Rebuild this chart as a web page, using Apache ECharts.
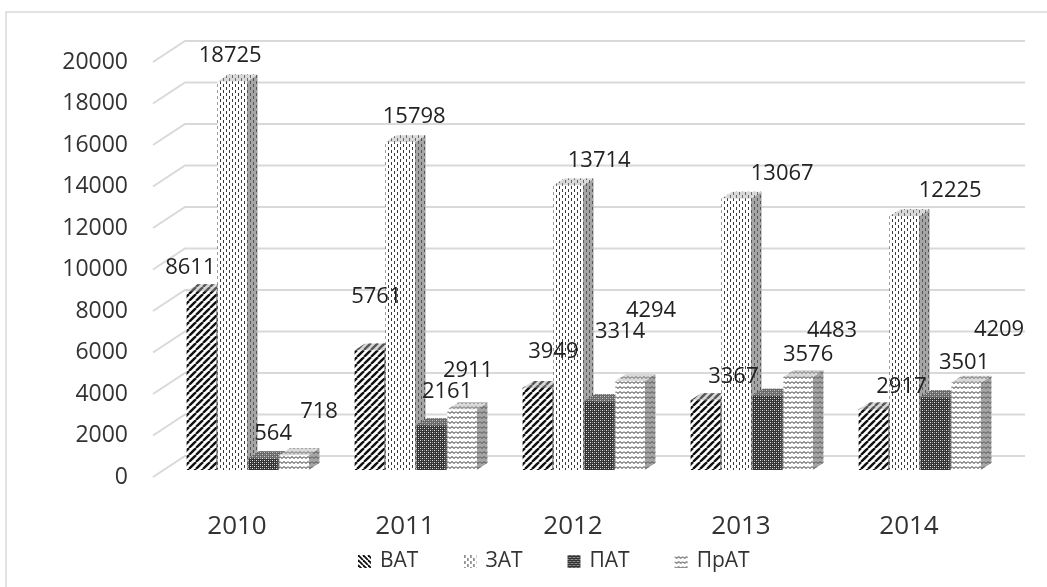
<!DOCTYPE html>
<html>
<head>
<meta charset="utf-8">
<script src="https://cdn.jsdelivr.net/npm/echarts@6/dist/echarts.min.js"></script>
<style>
  html, body { margin: 0; padding: 0; background: #ffffff; }
  #chart { width: 1047px; height: 587px; }
</style>
</head>
<body>
<div id="chart"></div>
<script>
// ---- data ----
const years = ['2010', '2011', '2012', '2013', '2014'];
const seriesNames = ['ВАТ', 'ЗАТ', 'ПАТ', 'ПрАТ'];
const vat  = [8611, 5761, 3949, 3367, 2917];
const zat  = [18725, 15798, 13714, 13067, 12225];
const pat  = [564, 2161, 3314, 3576, 3501];
const prat = [718, 2911, 4294, 4483, 4209];
const yTicks = [0, 2000, 4000, 6000, 8000, 10000, 12000, 14000, 16000, 18000, 20000];

// ---- layout / style ----
const FONT = '"Open Sans", "Noto Sans", sans-serif';
const TEXT = '#333333';
const DEPTH_X = 32, DEPTH_Y = -21;       // full depth of the 3D box
const SLOT = 0.184, BAR_W = 0.175;       // fractions of a category band

// small per-label nudges so value labels do not collide (px)
const labelNudge = [
  [[-16, 1], [2, -29], [11, -11], [23, 2], [23, 2]],
  [[-7, -1], [9, 0], [26, 0], [41, 0], [41, -1]],
  [[5, 0], [11, -8], [16, -45], [36, -16], [24, -10]],
  [[20, -18], [1, -14], [16, -45], [29, -21], [28, -28]]
];

// ---- fill patterns ----
function tile(w, h, draw) {
  const c = document.createElement('canvas');
  c.width = w; c.height = h;
  const g = c.getContext('2d');
  draw(g, w, h);
  return c;
}
function pattern(c) { return { image: c, repeat: 'repeat' }; }

const hatchUp = tile(7, 7, (g, w, h) => {
  g.fillStyle = '#fff'; g.fillRect(0, 0, w, h);
  g.strokeStyle = '#111'; g.lineWidth = 2.4;
  for (let k = -1; k <= 1; k++) { g.beginPath(); g.moveTo(k * w, h); g.lineTo(k * w + w, 0); g.stroke(); }
});
const hatchDown = tile(5, 5, (g, w, h) => {
  g.fillStyle = '#fff'; g.fillRect(0, 0, w, h);
  g.strokeStyle = '#111'; g.lineWidth = 1.8;
  for (let k = -1; k <= 1; k++) { g.beginPath(); g.moveTo(k * w, 0); g.lineTo(k * w + w, h); g.stroke(); }
});
const dashes = tile(6, 6, (g, w, h) => {
  g.fillStyle = '#fff'; g.fillRect(0, 0, w, h);
  g.fillStyle = '#3a3a3a';
  g.fillRect(1, 0, 1, 3);
  g.fillRect(4, 3, 1, 3);
});
const dense = tile(4, 4, (g, w, h) => {
  g.fillStyle = '#333'; g.fillRect(0, 0, w, h);
  g.fillStyle = '#e6e6e6';
  g.fillRect(0, 0, 1, 1);
  g.fillRect(2, 2, 1, 1);
  g.fillStyle = '#888';
  g.fillRect(2, 0, 1, 1);
  g.fillRect(0, 2, 1, 1);
});
const waves = tile(8, 5, (g, w, h) => {
  g.fillStyle = '#fff'; g.fillRect(0, 0, w, h);
  g.strokeStyle = '#222'; g.lineWidth = 1;
  g.beginPath();
  g.moveTo(0, 1.5); g.lineTo(2, 3.5); g.lineTo(4, 1.5); g.lineTo(6, 3.5); g.lineTo(8, 1.5);
  g.stroke();
});

const barFills = [hatchUp, dashes, dense, waves].map(pattern);
const legendFills = [hatchDown, dashes, dense, waves].map(pattern);
const seriesValues = [vat, zat, pat, prat];

// geometry of one column shared by the body and its value label
function columnBox(sIdx, api) {
  const cat = api.value(0), v = api.value(1);
  const base = api.coord([cat, 0]);
  const top = api.coord([cat, v]);
  const band = api.size([1, 0])[0];
  const dx = DEPTH_X / 3, dy = DEPTH_Y / 3;
  const cx = base[0] + (sIdx - 1.5) * band * SLOT + dx;
  const w = band * BAR_W;
  return { v, cx, w, dx, dy, xl: cx - w / 2, xr: cx + w / 2, yb: base[1] + dy, yt: top[1] + dy };
}

// ---- 3D column renderer ----
function columnRenderer(sIdx) {
  return function (params, api) {
    const b = columnBox(sIdx, api);
    const fill = barFills[sIdx];
    const side = [[b.xr, b.yt], [b.xr + b.dx, b.yt + b.dy], [b.xr + b.dx, b.yb + b.dy], [b.xr, b.yb]];
    const lid = [[b.xl, b.yt], [b.xr, b.yt], [b.xr + b.dx, b.yt + b.dy], [b.xl + b.dx, b.yt + b.dy]];
    return {
      type: 'group',
      children: [
        { type: 'polygon', shape: { points: side }, style: { fill: fill } },
        { type: 'polygon', shape: { points: side }, style: { fill: 'rgba(105,105,105,0.6)' } },
        { type: 'polygon', shape: { points: lid }, style: { fill: fill } },
        { type: 'polygon', shape: { points: lid }, style: { fill: 'rgba(170,170,170,0.45)' } },
        { type: 'rect', shape: { x: b.xl, y: b.yt, width: b.w, height: b.yb - b.yt }, style: { fill: fill } }
      ]
    };
  };
}

// value labels drawn above every column
function labelRenderer(sIdx) {
  return function (params, api) {
    const b = columnBox(sIdx, api);
    const nudge = labelNudge[sIdx][params.dataIndex];
    return {
      type: 'text',
      style: {
        text: String(b.v),
        x: b.cx + 5 + nudge[0], y: b.yt - 25 + nudge[1],
        align: 'center', verticalAlign: 'middle',
        fill: '#222222', font: '22px ' + FONT
      }
    };
  };
}

const chart = echarts.init(document.getElementById('chart'), null, { renderer: 'canvas' });

const series = [
  {
    name: 'walls',
    type: 'custom',
    silent: true,
    z: 1,
    data: yTicks.map(v => [0, v]),
    encode: { x: 0, y: 1 },
    renderItem: function (params, api) {
      const cs = params.coordSys;
      const y = api.coord([0, api.value(1)])[1];
      return {
        type: 'polyline',
        shape: { points: [[cs.x, y], [cs.x + DEPTH_X, y + DEPTH_Y], [cs.x + cs.width + DEPTH_X, y + DEPTH_Y]] },
        style: { stroke: '#d9d9d9', lineWidth: 2, fill: null }
      };
    }
  }
].concat(seriesNames.map((name, i) => ({
  name: name,
  type: 'custom',
  z: 2 + i,
  itemStyle: { color: legendFills[i] },
  data: seriesValues[i].map((v, j) => [j, v]),
  encode: { x: 0, y: 1 },
  renderItem: columnRenderer(i)
}))).concat(seriesNames.map((name, i) => ({
  name: name + ' values',
  type: 'custom',
  silent: true,
  z: 20,
  data: seriesValues[i].map((v, j) => [j, v]),
  encode: { x: 0, y: 1 },
  renderItem: labelRenderer(i)
})));

chart.setOption({
  animation: false,
  backgroundColor: '#ffffff',
  graphic: [{
    type: 'rect',
    shape: { x: 6, y: 12, width: 1100, height: 700 },
    style: { fill: null, stroke: '#d9d9d9', lineWidth: 1.5 },
    silent: true
  }],
  grid: { left: 153, right: 54, top: 62, bottom: 110, outerBoundsMode: 'none' },
  legend: {
    left: 353, top: 546,
    itemWidth: 13, itemHeight: 13, itemGap: 45,
    icon: 'rect',
    selectedMode: false,
    textStyle: { fontFamily: FONT, fontSize: 21, color: TEXT, padding: [0, 0, 0, 4] },
    data: seriesNames.map((n, i) => ({ name: n, itemStyle: { color: legendFills[i] } }))
  },
  xAxis: {
    type: 'category',
    data: years,
    axisLine: { show: false },
    axisTick: { show: false },
    axisLabel: { fontFamily: FONT, fontSize: 26, color: TEXT, margin: 37 }
  },
  yAxis: {
    type: 'value',
    min: 0, max: 20000, interval: 2000,
    axisLine: { show: false },
    axisTick: { show: false },
    splitLine: { show: false },
    axisLabel: { fontFamily: FONT, fontSize: 23, color: TEXT, margin: 25, formatter: v => String(v) }
  },
  series: series
});
</script>
</body>
</html>
